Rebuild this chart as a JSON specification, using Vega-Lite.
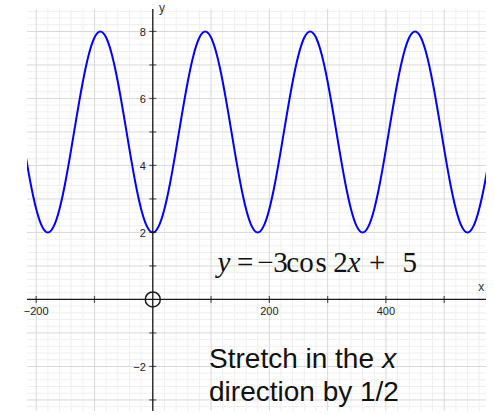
{
  "$schema": "https://vega.github.io/schema/vega-lite/v6.json",
  "width": 459,
  "height": 402,
  "autosize": {"type": "none"},
  "padding": {"left": 27, "top": 9, "right": 8, "bottom": 4},
  "background": "white",
  "config": {"view": {"stroke": null}},
  "datasets": {
    "curve": [
      {"x": -220, "y": 4.479}, {"x": -210, "y": 3.5}, {"x": -200, "y": 2.702}, {"x": -190, "y": 2.181},
      {"x": -180, "y": 2}, {"x": -170, "y": 2.181}, {"x": -160, "y": 2.702}, {"x": -150, "y": 3.5},
      {"x": -140, "y": 4.479}, {"x": -130, "y": 5.521}, {"x": -120, "y": 6.5}, {"x": -110, "y": 7.298},
      {"x": -100, "y": 7.819}, {"x": -90, "y": 8}, {"x": -80, "y": 7.819}, {"x": -70, "y": 7.298},
      {"x": -60, "y": 6.5}, {"x": -50, "y": 5.521}, {"x": -40, "y": 4.479}, {"x": -30, "y": 3.5},
      {"x": -20, "y": 2.702}, {"x": -10, "y": 2.181}, {"x": 0, "y": 2}, {"x": 10, "y": 2.181},
      {"x": 20, "y": 2.702}, {"x": 30, "y": 3.5}, {"x": 40, "y": 4.479}, {"x": 50, "y": 5.521},
      {"x": 60, "y": 6.5}, {"x": 70, "y": 7.298}, {"x": 80, "y": 7.819}, {"x": 90, "y": 8},
      {"x": 100, "y": 7.819}, {"x": 110, "y": 7.298}, {"x": 120, "y": 6.5}, {"x": 130, "y": 5.521},
      {"x": 140, "y": 4.479}, {"x": 150, "y": 3.5}, {"x": 160, "y": 2.702}, {"x": 170, "y": 2.181},
      {"x": 180, "y": 2}, {"x": 190, "y": 2.181}, {"x": 200, "y": 2.702}, {"x": 210, "y": 3.5},
      {"x": 220, "y": 4.479}, {"x": 230, "y": 5.521}, {"x": 240, "y": 6.5}, {"x": 250, "y": 7.298},
      {"x": 260, "y": 7.819}, {"x": 270, "y": 8}, {"x": 280, "y": 7.819}, {"x": 290, "y": 7.298},
      {"x": 300, "y": 6.5}, {"x": 310, "y": 5.521}, {"x": 320, "y": 4.479}, {"x": 330, "y": 3.5},
      {"x": 340, "y": 2.702}, {"x": 350, "y": 2.181}, {"x": 360, "y": 2}, {"x": 370, "y": 2.181},
      {"x": 380, "y": 2.702}, {"x": 390, "y": 3.5}, {"x": 400, "y": 4.479}, {"x": 410, "y": 5.521},
      {"x": 420, "y": 6.5}, {"x": 430, "y": 7.298}, {"x": 440, "y": 7.819}, {"x": 450, "y": 8},
      {"x": 460, "y": 7.819}, {"x": 470, "y": 7.298}, {"x": 480, "y": 6.5}, {"x": 490, "y": 5.521},
      {"x": 500, "y": 4.479}, {"x": 510, "y": 3.5}, {"x": 520, "y": 2.702}, {"x": 530, "y": 2.181},
      {"x": 540, "y": 2}, {"x": 550, "y": 2.181}, {"x": 560, "y": 2.702}, {"x": 570, "y": 3.5},
      {"x": 580, "y": 4.479}
    ],
    "gridXMinor": [
      {"v": -180}, {"v": -160}, {"v": -140}, {"v": -120}, {"v": -80}, {"v": -60}, {"v": -40}, {"v": -20},
      {"v": 20}, {"v": 40}, {"v": 60}, {"v": 80}, {"v": 120}, {"v": 140}, {"v": 160}, {"v": 180},
      {"v": 220}, {"v": 240}, {"v": 260}, {"v": 280}, {"v": 320}, {"v": 340}, {"v": 360}, {"v": 380},
      {"v": 420}, {"v": 440}, {"v": 460}, {"v": 480}, {"v": 520}, {"v": 540}, {"v": 560}
    ],
    "gridXMajor": [{"v": -200}, {"v": -100}, {"v": 0}, {"v": 100}, {"v": 200}, {"v": 300}, {"v": 400}, {"v": 500}],
    "gridYMinor": [
      {"v": -3.2}, {"v": -2.8}, {"v": -2.6}, {"v": -2.4}, {"v": -2.2}, {"v": -1.8}, {"v": -1.6}, {"v": -1.4}, {"v": -1.2},
      {"v": -0.8}, {"v": -0.6}, {"v": -0.4}, {"v": -0.2}, {"v": 0.2}, {"v": 0.4}, {"v": 0.6}, {"v": 0.8},
      {"v": 1.2}, {"v": 1.4}, {"v": 1.6}, {"v": 1.8}, {"v": 2.2}, {"v": 2.4}, {"v": 2.6}, {"v": 2.8},
      {"v": 3.2}, {"v": 3.4}, {"v": 3.6}, {"v": 3.8}, {"v": 4.2}, {"v": 4.4}, {"v": 4.6}, {"v": 4.8},
      {"v": 5.2}, {"v": 5.4}, {"v": 5.6}, {"v": 5.8}, {"v": 6.2}, {"v": 6.4}, {"v": 6.6}, {"v": 6.8},
      {"v": 7.2}, {"v": 7.4}, {"v": 7.6}, {"v": 7.8}, {"v": 8.2}, {"v": 8.4}, {"v": 8.6}
    ],
    "gridYMajor": [{"v": -3}, {"v": -2}, {"v": -1}, {"v": 1}, {"v": 2}, {"v": 3}, {"v": 4}, {"v": 5}, {"v": 6}, {"v": 7}, {"v": 8}],
    "xticks": [{"v": -200}, {"v": -100}, {"v": 100}, {"v": 200}, {"v": 300}, {"v": 400}, {"v": 500}],
    "yticks": [{"v": -3}, {"v": -2}, {"v": -1}, {"v": 1}, {"v": 2}, {"v": 3}, {"v": 4}, {"v": 5}, {"v": 6}, {"v": 7}, {"v": 8}],
    "xlabels": [{"v": -200, "t": "−200"}, {"v": 200, "t": "200"}, {"v": 400, "t": "400"}],
    "ylabels": [{"v": -2, "t": "−2"}, {"v": 2, "t": "2"}, {"v": 4, "t": "4"}, {"v": 6, "t": "6"}, {"v": 8, "t": "8"}],
    "axisNames": [{"x": 10.8, "y": 8.58, "t": "y"}, {"x": 558.5, "y": 0.25, "t": "x"}],
    "eqUpright": [
      {"x": 144.7, "y": 0.82, "t": "="}, {"x": 179.1, "y": 0.82, "t": "−"}, {"x": 206.5, "y": 0.82, "t": "3"},
      {"x": 228.8, "y": 0.82, "t": "c"}, {"x": 251.5, "y": 0.82, "t": "o"}, {"x": 279.0, "y": 0.82, "t": "s"},
      {"x": 309.5, "y": 0.82, "t": "2"}, {"x": 371.0, "y": 0.82, "t": "+"},
      {"x": 428.5, "y": 0.82, "t": "5"}
    ],
    "eqItalic": [{"x": 111.0, "y": 0.82, "t": "y"}, {"x": 334.0, "y": 0.82, "t": "x"}],
    "noteUpright": [{"x": 96.5, "y": -2.06, "t": "Stretch in the"}, {"x": 96.5, "y": -3.04, "t": "direction by 1/2"}],
    "noteItalic": [{"x": 393.6, "y": -2.06, "t": "x"}]
  },
  "encoding": {
    "x": {"type": "quantitative", "scale": {"domain": [-215.8, 571.7], "nice": false, "zero": false}, "axis": null},
    "y": {"type": "quantitative", "scale": {"domain": [-3.33, 8.67], "nice": false, "zero": false}, "axis": null}
  },
  "layer": [
    {
      "data": {"name": "gridXMinor"},
      "mark": {"type": "rule", "color": "#efefef", "strokeWidth": 1},
      "encoding": {"x": {"field": "v", "type": "quantitative"}, "y": null}
    },
    {
      "data": {"name": "gridYMinor"},
      "mark": {"type": "rule", "color": "#efefef", "strokeWidth": 1},
      "encoding": {"y": {"field": "v", "type": "quantitative"}, "x": null}
    },
    {
      "data": {"name": "gridXMajor"},
      "mark": {"type": "rule", "color": "#d8d8d8", "strokeWidth": 1},
      "encoding": {"x": {"field": "v", "type": "quantitative"}, "y": null}
    },
    {
      "data": {"name": "gridYMajor"},
      "mark": {"type": "rule", "color": "#d8d8d8", "strokeWidth": 1},
      "encoding": {"y": {"field": "v", "type": "quantitative"}, "x": null}
    },
    {
      "data": {"name": "curve"},
      "mark": {"type": "line", "interpolate": "natural", "clip": true, "color": "#0000ff", "strokeWidth": 2},
      "encoding": {
        "x": {"field": "x", "type": "quantitative"},
        "y": {"field": "y", "type": "quantitative"}
      }
    },
    {
      "data": {"values": [{}]},
      "mark": {"type": "rule", "color": "#1a1a1a", "strokeWidth": 1.3},
      "encoding": {"y": {"datum": 0, "type": "quantitative"}, "x": null}
    },
    {
      "data": {"values": [{}]},
      "mark": {"type": "rule", "color": "#1a1a1a", "strokeWidth": 1.3},
      "encoding": {"x": {"datum": 0, "type": "quantitative"}, "y": null}
    },
    {
      "data": {"name": "xticks"},
      "mark": {"type": "tick", "orient": "vertical", "size": 7, "thickness": 1.2, "color": "#1a1a1a"},
      "encoding": {
        "x": {"field": "v", "type": "quantitative"},
        "y": {"datum": 0, "type": "quantitative"}
      }
    },
    {
      "data": {"name": "yticks"},
      "mark": {"type": "tick", "orient": "horizontal", "size": 7, "thickness": 1.2, "color": "#1a1a1a"},
      "encoding": {
        "y": {"field": "v", "type": "quantitative"},
        "x": {"datum": 0, "type": "quantitative"}
      }
    },
    {
      "data": {"name": "xlabels"},
      "mark": {"type": "text", "font": "Liberation Sans", "fontSize": 11, "color": "#222222", "align": "center", "baseline": "alphabetic", "dy": 15.5},
      "encoding": {
        "x": {"field": "v", "type": "quantitative"},
        "y": {"datum": 0, "type": "quantitative"},
        "text": {"field": "t"}
      }
    },
    {
      "data": {"name": "ylabels"},
      "mark": {"type": "text", "font": "Liberation Sans", "fontSize": 11, "color": "#222222", "align": "right", "baseline": "middle", "dx": -7, "dy": 2},
      "encoding": {
        "y": {"field": "v", "type": "quantitative"},
        "x": {"datum": 0, "type": "quantitative"},
        "text": {"field": "t"}
      }
    },
    {
      "data": {"name": "axisNames"},
      "mark": {"type": "text", "font": "Liberation Sans", "fontSize": 12, "color": "#333333", "align": "left", "baseline": "alphabetic"},
      "encoding": {
        "x": {"field": "x", "type": "quantitative"},
        "y": {"field": "y", "type": "quantitative"},
        "text": {"field": "t"}
      }
    },
    {
      "data": {"values": [{"x": 0, "y": 0}]},
      "mark": {"type": "point", "shape": "circle", "size": 225, "filled": false, "stroke": "#1a1a1a", "strokeWidth": 1.5, "opacity": 1},
      "encoding": {
        "x": {"field": "x", "type": "quantitative"},
        "y": {"field": "y", "type": "quantitative"}
      }
    },
    {
      "data": {"name": "eqUpright"},
      "mark": {"type": "text", "font": "Liberation Serif", "fontSize": 29, "color": "#111111", "align": "left", "baseline": "alphabetic"},
      "encoding": {
        "x": {"field": "x", "type": "quantitative"},
        "y": {"field": "y", "type": "quantitative"},
        "text": {"field": "t"}
      }
    },
    {
      "data": {"name": "eqItalic"},
      "mark": {"type": "text", "font": "Liberation Serif", "fontSize": 29, "fontStyle": "italic", "color": "#111111", "align": "left", "baseline": "alphabetic"},
      "encoding": {
        "x": {"field": "x", "type": "quantitative"},
        "y": {"field": "y", "type": "quantitative"},
        "text": {"field": "t"}
      }
    },
    {
      "data": {"name": "noteUpright"},
      "mark": {"type": "text", "font": "Liberation Sans", "fontSize": 28, "color": "#111111", "align": "left", "baseline": "alphabetic"},
      "encoding": {
        "x": {"field": "x", "type": "quantitative"},
        "y": {"field": "y", "type": "quantitative"},
        "text": {"field": "t"}
      }
    },
    {
      "data": {"name": "noteItalic"},
      "mark": {"type": "text", "font": "Liberation Sans", "fontSize": 28, "fontStyle": "italic", "color": "#111111", "align": "left", "baseline": "alphabetic"},
      "encoding": {
        "x": {"field": "x", "type": "quantitative"},
        "y": {"field": "y", "type": "quantitative"},
        "text": {"field": "t"}
      }
    }
  ]
}
